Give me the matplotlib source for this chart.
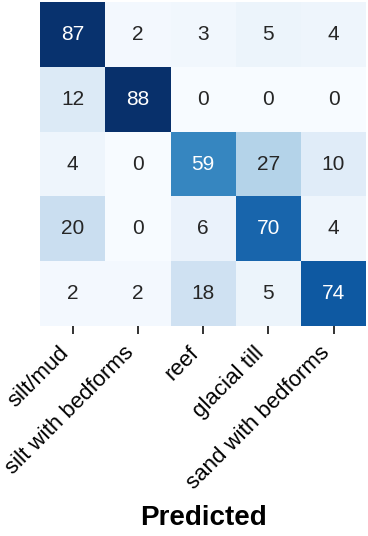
import matplotlib
matplotlib.use("Agg")
import matplotlib.pyplot as plt
import numpy as np
import seaborn as sns

plt.rcParams['font.family'] = ['Liberation Sans', 'DejaVu Sans']

categories = ["silt/mud", "silt with bedforms", "reef", "glacial till", "sand with bedforms"]
row_silt_mud = [87, 2, 3, 5, 4]
row_silt_bedforms = [12, 88, 0, 0, 0]
row_reef = [4, 0, 59, 27, 10]
row_glacial_till = [20, 0, 6, 70, 4]
row_sand_bedforms = [2, 2, 18, 5, 74]

matrix = np.array([row_silt_mud, row_silt_bedforms, row_reef, row_glacial_till, row_sand_bedforms])

fig = plt.figure(figsize=(3.68, 5.36), dpi=100)
ax = fig.add_axes([0.109, 0.392, 0.886, 0.604])
sns.heatmap(matrix, ax=ax, cmap="Blues", annot=True, fmt="d", cbar=False,
            square=False, annot_kws={"fontsize": 15},
            xticklabels=categories, yticklabels=False)
ax.set_xticklabels(categories, rotation=45, ha='right', fontsize=16)
ax.tick_params(axis='x', length=6, width=1.3, color='#222222', pad=6)
ax.tick_params(axis='y', length=0)
ax.set_xlabel("Predicted", fontsize=20, fontweight='bold', labelpad=8)
fig.savefig("out.png", dpi=100)
